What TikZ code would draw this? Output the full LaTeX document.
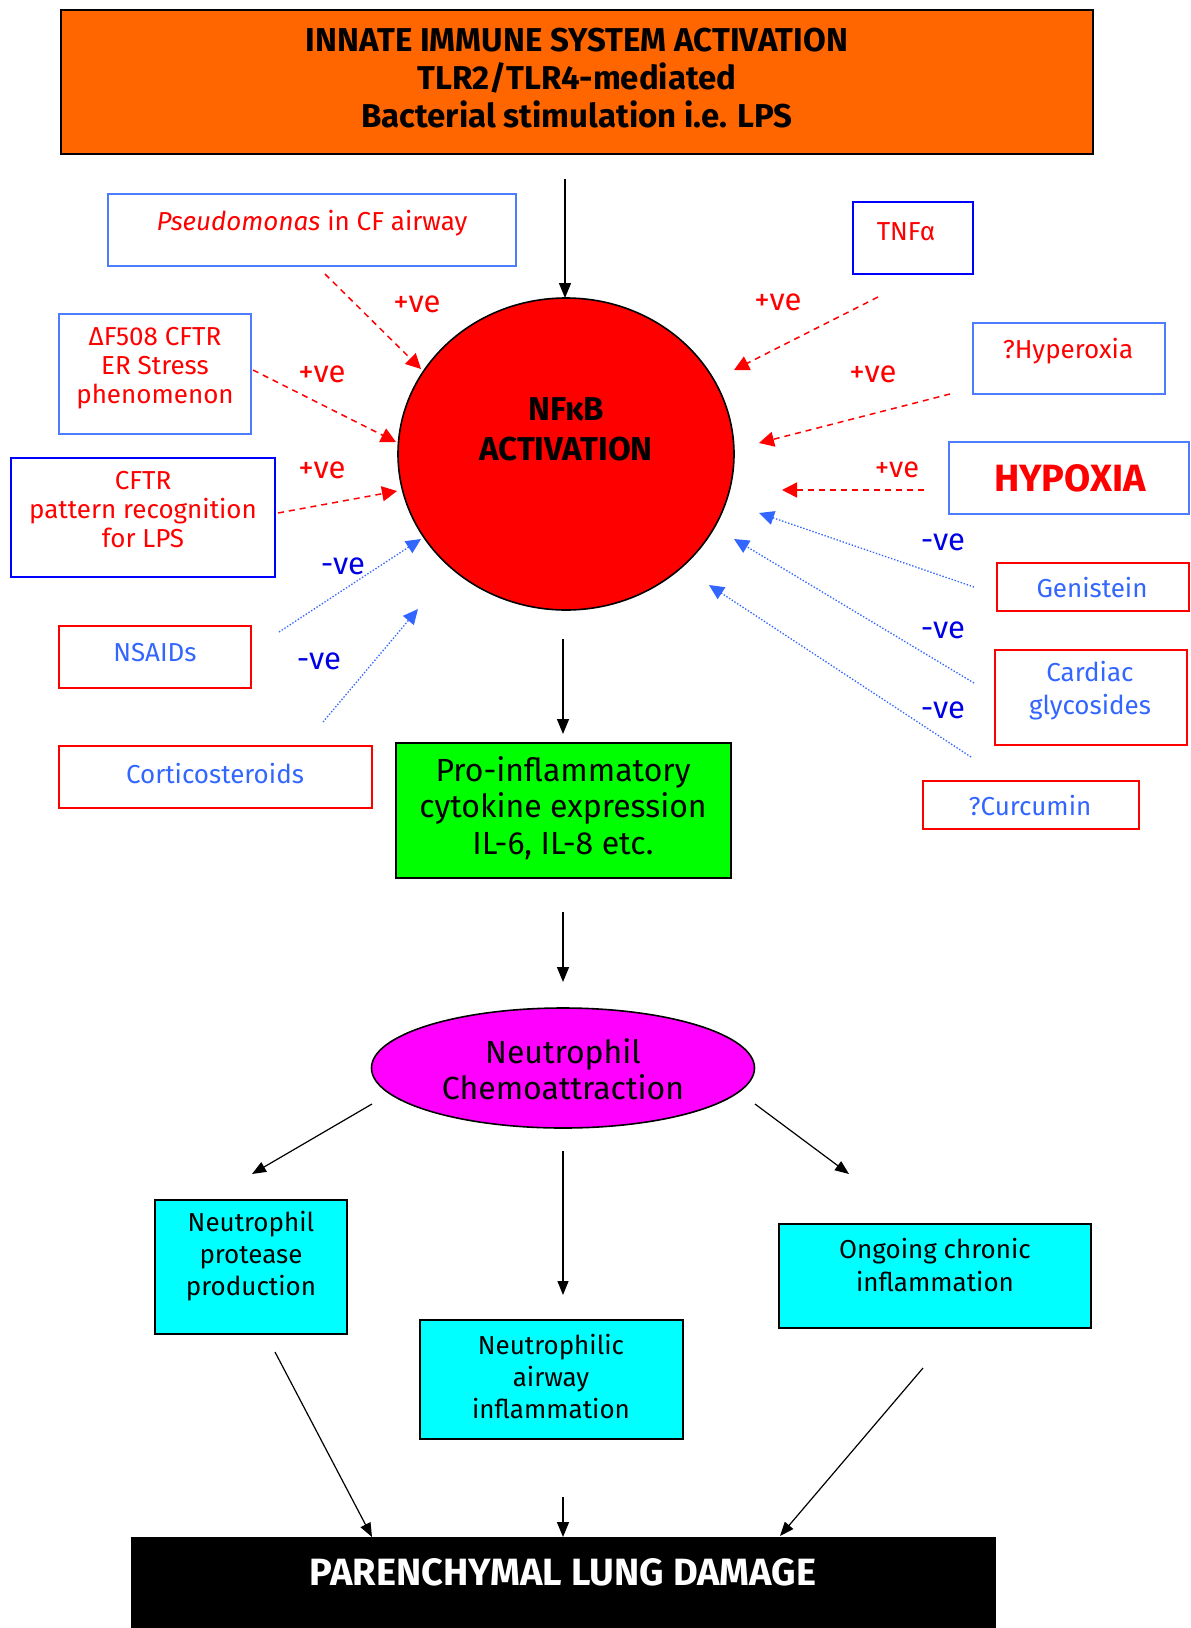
\documentclass[tikz,border=0pt]{standalone}
\usepackage{fontspec}
\setmainfont{Fira Sans}
\usetikzlibrary{arrows.meta,shapes.geometric}
\definecolor{orangeF}{RGB}{255,102,0}
\definecolor{boxblue}{RGB}{77,124,255}
\definecolor{darkblue}{RGB}{0,0,255}
\definecolor{txtblue}{RGB}{51,102,255}
\definecolor{negblue}{RGB}{0,0,230}
\definecolor{posred}{RGB}{255,0,0}
\definecolor{arrblue}{RGB}{51,102,255}
\definecolor{magF}{RGB}{255,0,255}
\definecolor{cyanF}{RGB}{0,255,255}
\definecolor{greenF}{RGB}{0,255,0}
\begin{document}
\begin{tikzpicture}[x=1pt,y=-1pt,
  shp/.style={inner sep=0pt, outer sep=0pt},
  rbox/.style={shp, draw=posred, line width=1.6pt},
  bbox/.style={shp, draw=boxblue, line width=1.6pt},
  dbbox/.style={shp, draw=darkblue, line width=1.6pt},
  fbox/.style={shp, draw=black, line width=1.6pt},
  txt/.style={inner sep=0pt, align=center},
  small/.style={font=\fontsize{26}{29}\selectfont},
  sign/.style={inner sep=0pt, font=\fontsize{31}{32}\selectfont},
  posarrow/.style={draw=posred, line width=1.5pt, dash pattern=on 6pt off 5pt, -{Triangle[length=15pt,width=15pt,fill=posred]}},
  negarrow/.style={draw=arrblue, line width=1.3pt, dash pattern=on 1.4pt off 1.8pt, -{Triangle[length=15pt,width=14pt,fill=arrblue]}},
  flow/.style={draw=black, line width=1.5pt, -{Triangle[length=15pt,width=12pt]}},
  thinflow/.style={draw=black, line width=1.2pt, -{Triangle[length=14pt,width=11pt]}}
]
\useasboundingbox (0,0) rectangle (1191,1628);

% top box
\node[fbox, fill=orangeF, minimum width=1032pt, minimum height=144pt] (innate) at (577,82) {};
\node[txt, font=\fontsize{33}{38}\selectfont\bfseries] (innateT) at (577,78) {INNATE IMMUNE SYSTEM ACTIVATION\\TLR2/TLR4-mediated\\Bacterial stimulation i.e. LPS};

% NFkB circle
\node[shp, ellipse, draw=black, line width=1.6pt, fill=posred, minimum width=336pt, minimum height=312pt] (nfkb) at (566,454) {};
\node[txt, font=\fontsize{33}{40}\selectfont\bfseries] (nfkbT) at (566,429) {NFκB\\ACTIVATION};

% left activators
\node[bbox, minimum width=408pt, minimum height=72pt] (pseu) at (312,230) {};
\node[txt, small, text=posred] (pseuT) at (312,223) {\itshape Pseudomonas\upshape{} in CF airway};
\node[bbox, minimum width=192pt, minimum height=120pt] (df) at (155,374) {};
\node[txt, small, text=posred] (dfT) at (155,368) {ΔF508 CFTR\\ER Stress\\phenomenon};
\node[dbbox, minimum width=264pt, minimum height=119pt] (cftr) at (143,517.5) {};
\node[txt, small, text=posred] (cftrT) at (143,510) {CFTR\\pattern recognition\\for LPS};

% left inhibitors
\node[rbox, minimum width=192pt, minimum height=62pt] (nsaid) at (155,657) {};
\node[txt, small, text=txtblue] (nsaidT) at (155,653) {NSAIDs};
\node[rbox, minimum width=313pt, minimum height=62pt] (cort) at (215.5,777) {};
\node[txt, small, text=txtblue] (cortT) at (215,774) {Corticosteroids};

% right activators
\node[dbbox, minimum width=120pt, minimum height=72pt] (tnf) at (913,238) {};
\node[txt, small, text=posred] (tnfT) at (906,232) {TNFα};
\node[bbox, minimum width=192pt, minimum height=71pt] (hyper) at (1069,358.5) {};
\node[txt, small, text=posred] (hyperT) at (1068,351) {?Hyperoxia};
\node[bbox, minimum width=240pt, minimum height=72pt] (hypox) at (1069,478) {};
\node[txt, text=posred, font=\fontsize{38}{40}\selectfont\bfseries] (hypoxT) at (1070,478) {HYPOXIA};

% right inhibitors
\node[rbox, minimum width=192pt, minimum height=48pt] (gen) at (1093,587) {};
\node[txt, small, text=txtblue] (genT) at (1092,588) {Genistein};
\node[rbox, minimum width=192pt, minimum height=95pt] (card) at (1091,697.5) {};
\node[txt, text=txtblue, font=\fontsize{26}{33}\selectfont] (cardT) at (1090,691) {Cardiac\\glycosides};
\node[rbox, minimum width=216pt, minimum height=48pt] (curc) at (1031,805) {};
\node[txt, small, text=txtblue] (curcT) at (1030,806) {?Curcumin};

% green box
\node[fbox, fill=greenF, minimum width=335pt, minimum height=135pt] (cyto) at (563.5,810.5) {};
\node[txt, font=\fontsize{32}{36.5}\selectfont] (cytoT) at (563,808) {Pro-inflammatory\\cytokine expression\\IL-6, IL-8 etc.};

% magenta ellipse
\node[shp, ellipse, draw=black, line width=1.6pt, fill=magF, minimum width=383pt, minimum height=120pt] (chemo) at (563,1068) {};
\node[txt, font=\fontsize{32}{36}\selectfont] (chemoT) at (563,1069) {Neutrophil\\Chemoattraction};

% cyan boxes
\node[fbox, fill=cyanF, minimum width=192pt, minimum height=134pt] (prot) at (251,1267) {};
\node[txt, font=\fontsize{26}{32}\selectfont] (protT) at (251,1256) {Neutrophil\\protease\\production};
\node[fbox, fill=cyanF, minimum width=263pt, minimum height=119pt] (airway) at (551.5,1379.5) {};
\node[txt, font=\fontsize{26}{32}\selectfont] (airwayT) at (551,1376) {Neutrophilic\\airway\\inflammation};
\node[fbox, fill=cyanF, minimum width=312pt, minimum height=104pt] (chron) at (935,1276) {};
\node[txt, font=\fontsize{26}{33}\selectfont] (chronT) at (935,1265) {Ongoing chronic\\inflammation};

% bottom black box
\node[shp, fill=black, minimum width=865pt, minimum height=94pt] (lung) at (563.5,1584) {};
\node[txt, text=white, font=\fontsize{38}{40}\selectfont\bfseries] (lungT) at (563,1572) {PARENCHYMAL LUNG DAMAGE};

% main flow arrows
\coordinate (f1s) at (565,179);
\draw[flow] (f1s) -- (nfkb.north -| f1s);
\coordinate (f2s) at (563,639);
\coordinate (f2e) at (563,734);
\draw[flow] (f2s) -- (f2e);
\coordinate (f3s) at (563,912);
\coordinate (f3e) at (563,982);
\draw[flow] (f3s) -- (f3e);
\coordinate (n1s) at (372,1104);
\coordinate (n1e) at (252,1174);
\draw[thinflow] (n1s) -- (n1e);
\coordinate (n2s) at (563,1151);
\coordinate (n2e) at (563,1295);
\draw[thinflow] (n2s) -- (n2e);
\coordinate (n3s) at (755,1104);
\coordinate (n3e) at (849,1174);
\draw[thinflow] (n3s) -- (n3e);
\coordinate (b1s) at (275,1352);
\coordinate (b1e) at (372,1537);
\draw[thinflow] (b1s) -- (b1e);
\coordinate (b2s) at (563,1497);
\draw[flow] (b2s) -- (lung.north -| b2s);
\coordinate (b3s) at (923,1368);
\coordinate (b3e) at (780,1536);
\draw[thinflow] (b3s) -- (b3e);

% positive (dashed red) arrows
\coordinate (p1s) at (325,274);  \coordinate (p1e) at (421,369);
\coordinate (p2s) at (253,370);  \coordinate (p2e) at (396,442);
\coordinate (p3s) at (278,513);  \coordinate (p3e) at (397,491);
\coordinate (p4s) at (878,297);  \coordinate (p4e) at (734,370);
\coordinate (p5s) at (950,394);  \coordinate (p5e) at (759,443);
\coordinate (p6s) at (924,490);  \coordinate (p6e) at (782,490);
\draw[posarrow] (p1s) -- (p1e);
\draw[posarrow] (p2s) -- (p2e);
\draw[posarrow] (p3s) -- (p3e);
\draw[posarrow] (p4s) -- (p4e);
\draw[posarrow] (p5s) -- (p5e);
\draw[posarrow] (p6s) -- (p6e);
\node[sign, text=posred] (l1) at (417,304) {+ve};
\node[sign, text=posred] (l2) at (322,374) {+ve};
\node[sign, text=posred] (l3) at (322,470) {+ve};
\node[sign, text=posred] (l4) at (778,302) {+ve};
\node[sign, text=posred] (l5) at (873,374) {+ve};
\node[sign, text=posred, font=\fontsize{29}{30}\selectfont] (l6) at (897,470) {+ve};

% negative (dotted blue) arrows
\coordinate (m1s) at (279,632);  \coordinate (m1e) at (421,539);
\coordinate (m2s) at (323,722);  \coordinate (m2e) at (418,609);
\coordinate (m3s) at (974,587);  \coordinate (m3e) at (759,513);
\coordinate (m4s) at (974,683);  \coordinate (m4e) at (734,539);
\coordinate (m5s) at (971,757);  \coordinate (m5e) at (709,585);
\draw[negarrow] (m1s) -- (m1e);
\draw[negarrow] (m2s) -- (m2e);
\draw[negarrow] (m3s) -- (m3e);
\draw[negarrow] (m4s) -- (m4e);
\draw[negarrow] (m5s) -- (m5e);
\node[sign, text=negblue] (k1) at (343,566) {-ve};
\node[sign, text=negblue] (k2) at (319,661) {-ve};
\node[sign, text=negblue] (k3) at (943,542) {-ve};
\node[sign, text=negblue] (k4) at (943,630) {-ve};
\node[sign, text=negblue] (k5) at (943,710) {-ve};
\end{tikzpicture}
\end{document}
